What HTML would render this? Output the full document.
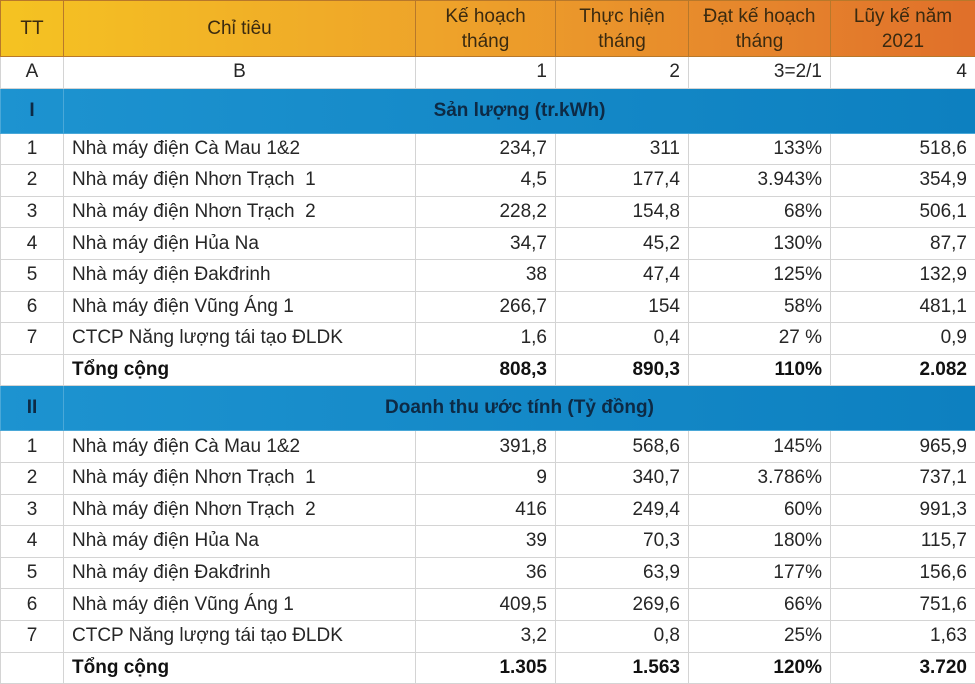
<!DOCTYPE html>
<html><head><meta charset="utf-8"><style>
body{margin:0;width:975px;height:683px;overflow:hidden;background:#fff;font-family:"Liberation Sans",sans-serif;color:#262626}
table{border-collapse:collapse;table-layout:fixed;width:975px}
td{border:1px solid #d4d4d4;font-size:19px;padding:0 8px;height:31.6px;line-height:20px;white-space:nowrap;overflow:hidden;box-sizing:border-box}
td.r{text-align:right}
td.c{text-align:center}
tr.h td{height:56px;border-color:#b8782a;text-align:center;line-height:25px;font-size:19px;color:#3a2a10}
tr.hd{background:linear-gradient(90deg,#f5c322 0%,#eea32a 45%,#e5832c 80%,#e06f2a 100%)}
tr.s td{height:45px;border-color:#4aa8d8;font-weight:bold;color:#0d2a45}
tr.s{background:linear-gradient(90deg,#1d93d0,#0d80c0)}
tr.b td{font-weight:bold;color:#111}
</style></head><body>
<table>
<colgroup><col style="width:63px"><col style="width:352px"><col style="width:140px"><col style="width:133px"><col style="width:142px"><col style="width:145px"></colgroup>
<tr class="h hd"><td>TT</td><td>Chỉ tiêu</td><td>Kế hoạch<br>tháng</td><td>Thực hiện<br>tháng</td><td>Đạt kế hoạch<br>tháng</td><td>Lũy kế năm<br>2021</td></tr>
<tr><td class="c">A</td><td class="c">B</td><td class="r">1</td><td class="r">2</td><td class="r">3=2/1</td><td class="r">4</td></tr>
<tr class="s"><td class="c">I</td><td colspan="5" style="text-align:center">Sản lượng (tr.kWh)</td></tr>
<tr><td class="c">1</td><td>Nhà máy điện Cà Mau 1&amp;2</td><td class="r">234,7</td><td class="r">311</td><td class="r">133%</td><td class="r">518,6</td></tr>
<tr><td class="c">2</td><td>Nhà máy điện Nhơn Trạch&nbsp; 1</td><td class="r">4,5</td><td class="r">177,4</td><td class="r">3.943%</td><td class="r">354,9</td></tr>
<tr><td class="c">3</td><td>Nhà máy điện Nhơn Trạch&nbsp; 2</td><td class="r">228,2</td><td class="r">154,8</td><td class="r">68%</td><td class="r">506,1</td></tr>
<tr><td class="c">4</td><td>Nhà máy điện Hủa Na</td><td class="r">34,7</td><td class="r">45,2</td><td class="r">130%</td><td class="r">87,7</td></tr>
<tr><td class="c">5</td><td>Nhà máy điện Đakđrinh</td><td class="r">38</td><td class="r">47,4</td><td class="r">125%</td><td class="r">132,9</td></tr>
<tr><td class="c">6</td><td>Nhà máy điện Vũng Áng 1</td><td class="r">266,7</td><td class="r">154</td><td class="r">58%</td><td class="r">481,1</td></tr>
<tr><td class="c">7</td><td>CTCP Năng lượng tái tạo ĐLDK</td><td class="r">1,6</td><td class="r">0,4</td><td class="r">27 %</td><td class="r">0,9</td></tr>
<tr class="b"><td></td><td>Tổng cộng</td><td class="r">808,3</td><td class="r">890,3</td><td class="r">110%</td><td class="r">2.082</td></tr>
<tr class="s"><td class="c">II</td><td colspan="5" style="text-align:center">Doanh thu ước tính (Tỷ đồng)</td></tr>
<tr><td class="c">1</td><td>Nhà máy điện Cà Mau 1&amp;2</td><td class="r">391,8</td><td class="r">568,6</td><td class="r">145%</td><td class="r">965,9</td></tr>
<tr><td class="c">2</td><td>Nhà máy điện Nhơn Trạch&nbsp; 1</td><td class="r">9</td><td class="r">340,7</td><td class="r">3.786%</td><td class="r">737,1</td></tr>
<tr><td class="c">3</td><td>Nhà máy điện Nhơn Trạch&nbsp; 2</td><td class="r">416</td><td class="r">249,4</td><td class="r">60%</td><td class="r">991,3</td></tr>
<tr><td class="c">4</td><td>Nhà máy điện Hủa Na</td><td class="r">39</td><td class="r">70,3</td><td class="r">180%</td><td class="r">115,7</td></tr>
<tr><td class="c">5</td><td>Nhà máy điện Đakđrinh</td><td class="r">36</td><td class="r">63,9</td><td class="r">177%</td><td class="r">156,6</td></tr>
<tr><td class="c">6</td><td>Nhà máy điện Vũng Áng 1</td><td class="r">409,5</td><td class="r">269,6</td><td class="r">66%</td><td class="r">751,6</td></tr>
<tr><td class="c">7</td><td>CTCP Năng lượng tái tạo ĐLDK</td><td class="r">3,2</td><td class="r">0,8</td><td class="r">25%</td><td class="r">1,63</td></tr>
<tr class="b"><td></td><td>Tổng cộng</td><td class="r">1.305</td><td class="r">1.563</td><td class="r">120%</td><td class="r">3.720</td></tr>
</table>
</body></html>
